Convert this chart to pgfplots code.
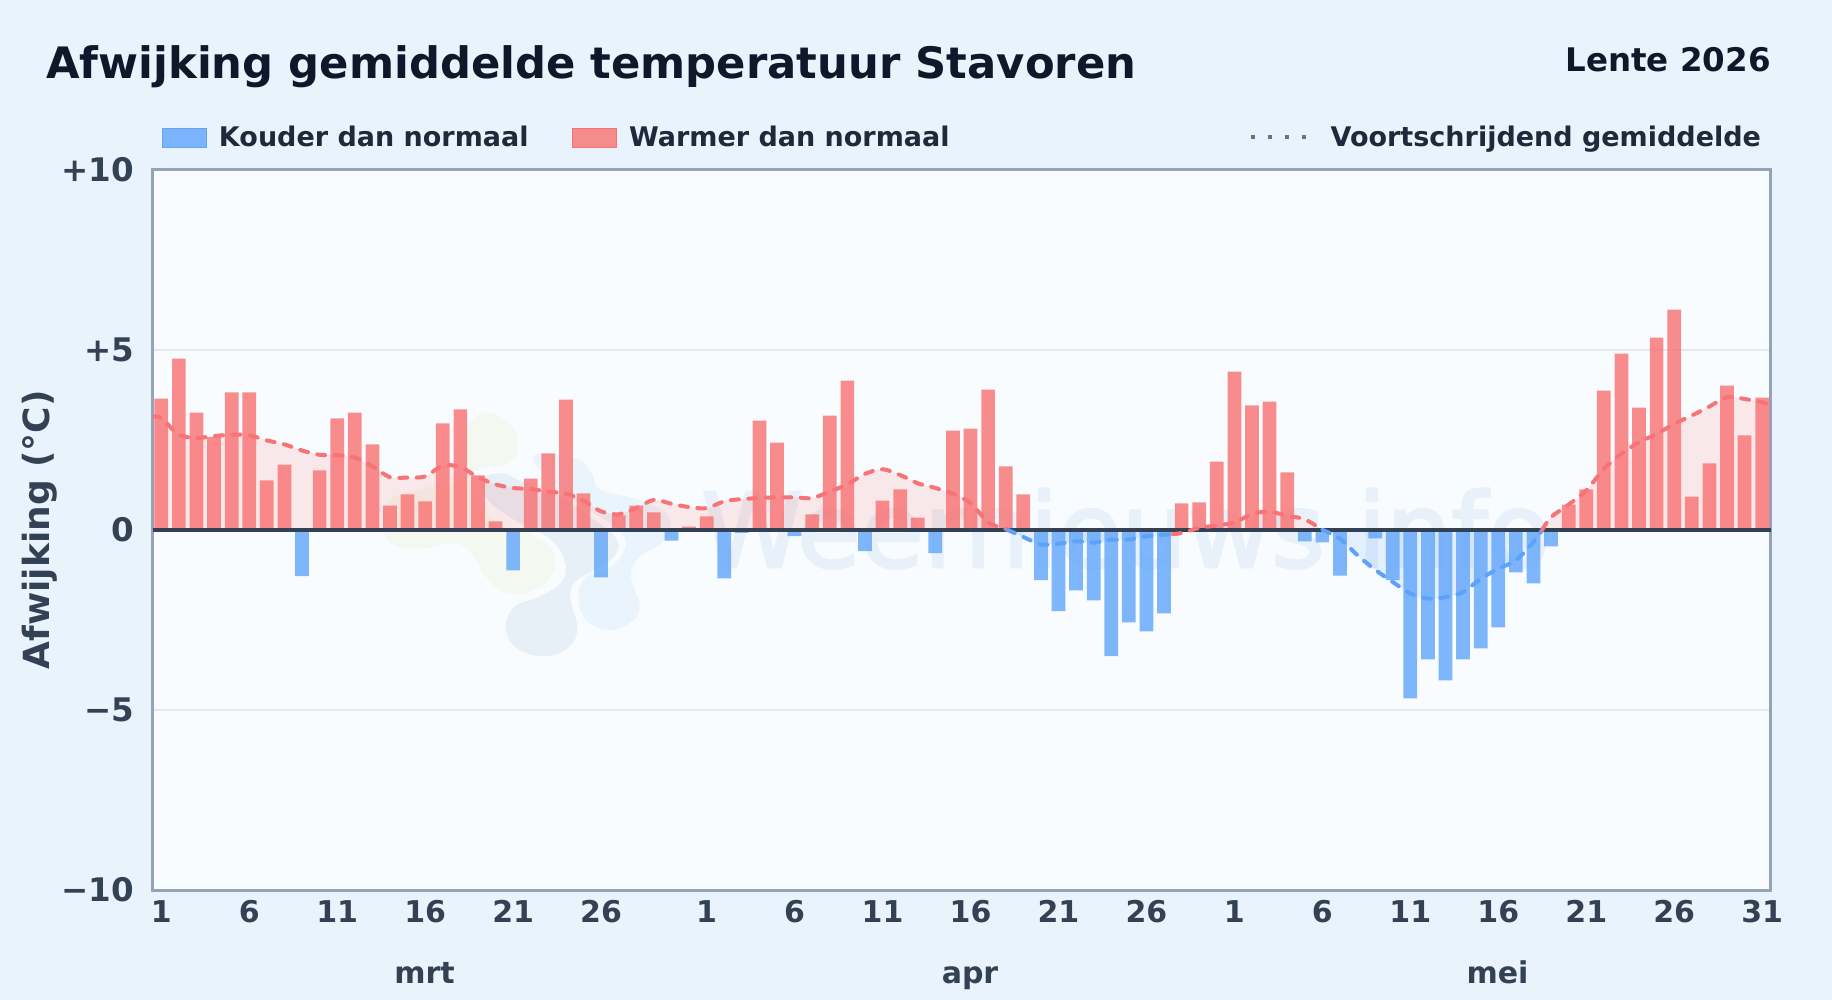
\documentclass[border=0pt]{standalone}
\usepackage{fontspec}
\setmainfont{DejaVu Sans}
\newfontfamily\wmfont[FakeBold=2.5]{DejaVu Sans}
\usepackage{pgfplots}
\pgfplotsset{compat=1.18}

\definecolor{pagebg}{RGB}{232,243,252}
\definecolor{plotbg}{RGB}{248,252,255}
\definecolor{warm}{RGB}{248,113,113}
\definecolor{cold}{RGB}{96,165,250}
\definecolor{warmline}{RGB}{247,115,118}
\definecolor{coldline}{RGB}{92,162,250}
\definecolor{ink}{RGB}{15,23,42}
\definecolor{legendink}{RGB}{30,41,59}
\definecolor{tickink}{RGB}{51,65,85}
\definecolor{frame}{RGB}{148,163,184}
\definecolor{gridc}{RGB}{226,232,240}
\definecolor{dots}{RGB}{100,116,139}
\definecolor{wmark}{RGB}{232,240,249}
\definecolor{blobgreen}{RGB}{243,249,241}
\definecolor{blobgray}{RGB}{231,239,247}
\definecolor{blobblue}{RGB}{234,244,253}

\newcommand{\fs}[1]{\fontsize{#1}{#1}\selectfont\bfseries}

\begin{document}
\begin{tikzpicture}
  \path[use as bounding box] (0,0) rectangle (1832pt,-1000pt);
  \fill[pagebg] (0,0) rectangle (1832pt,-1000pt);
  \fill[plotbg] (152.5pt,-169.5pt) rectangle (1771pt,-890pt);

  % logo blobs, faint, coordinates as on the zoomed crop
  \begin{scope}[shift={(140pt,-340pt)},x=0.357pt,y=-0.3333pt]
    \fill[blobgreen] plot[smooth cycle,tension=0.7] coordinates {
      (950,222) (1030,245) (1058,310) (1035,365) (960,385) (890,420) (780,450) (700,480)
      (680,550) (710,615) (790,625) (880,610) (930,640) (965,705) (1020,755) (1090,755)
      (1150,710) (1160,640) (1110,590) (1010,555) (960,500) (930,440) (900,320)};
    \fill[blobblue] plot[smooth cycle,tension=0.7] coordinates {
      (1100,350) (1220,355) (1265,400) (1290,450) (1400,480) (1480,530) (1470,600) (1400,650)
      (1375,710) (1400,800) (1370,850) (1310,870) (1250,840) (1228,770) (1250,710) (1320,680)
      (1360,620) (1340,570) (1260,510) (1180,450)};
    \fill[blobgray] plot[smooth cycle,tension=0.7] coordinates {
      (1025,860) (1050,800) (1120,770) (1185,720) (1185,650) (1140,590) (1050,540) (975,480)
      (960,420) (1010,400) (1060,420) (1110,445) (1180,470) (1260,530) (1330,590) (1335,640)
      (1290,680) (1225,720) (1205,770) (1225,870) (1190,930) (1120,948) (1050,920)};
  \end{scope}
  \node[anchor=base west,inner sep=0pt,text=wmark,font=\wmfont\fontsize{103}{103}\selectfont] at (701pt,-567pt) {Weernieuws.info};

  \begin{axis}[
    at={(152.5pt,-890pt)}, anchor=south west,
    scale only axis, width=1618.5pt, height=720.5pt,
    xmin=-0.5, xmax=91.5, ymin=-10, ymax=10,
    axis line style={frame, line width=3pt},
    ytick={-10,-5,0,5,10},
    yticklabels={−10,−5,0,+5,+10},
    xtick={0,5,10,15,20,25,31,36,41,46,51,56,61,66,71,76,81,86,91},
    xticklabels={1,6,11,16,21,26,1,6,11,16,21,26,1,6,11,16,21,26,31},
    major tick length=0pt,
    ymajorgrids, grid style={gridc, line width=2pt},
    x tick label style={font=\fs{30}, text=tickink, yshift=-7pt},
    y tick label style={font=\fs{32.5}, text=tickink, xshift=-15pt},
    title={Afwijking gemiddelde temperatuur Stavoren},
    title style={font=\fs{43.3}, text=ink, at={(axis description cs:-0.0658,1.1186)}, anchor=base west, inner sep=0pt, yshift=0pt},
    ylabel={Afwijking (°C)},
    ylabel style={font=\fs{36}, text=tickink, at={(axis description cs:-0.0695,0.5)}, anchor=center},
    legend style={at={(axis description cs:0.0055,1.0448)}, anchor=west, draw=none, fill=none,
      legend columns=3, font=\fs{27}, text=legendink, inner sep=0pt},
    legend cell align=left,
    runmean/.style={smooth,tension=0.5,line width=4pt,line cap=round,dash pattern=on 8pt off 9.5pt,forget plot},
  ]
    \addlegendimage{legend image code/.code={\fill[cold,fill opacity=0.8] (0pt,-9.5pt) rectangle (44pt,9.5pt);}}
    \addlegendentry{\hspace{11pt}Kouder dan normaal\hspace{41pt}\null}
    \addlegendimage{legend image code/.code={\fill[warm,fill opacity=0.8] (0pt,-9.5pt) rectangle (44pt,9.5pt);}}
    \addlegendentry{\hspace{11pt}Warmer dan normaal\hspace{297pt}\null}
    \addlegendimage{legend image code/.code={\draw[dots,line width=4.5pt,dash pattern=on 4.5pt off 12.5pt] (0pt,0pt) -- (55.5pt,0pt);}}
    \addlegendentry{\hspace{20pt}Voortschrijdend gemiddelde}

    % shaded area under the running mean
    \addplot[draw=none,fill=warm,fill opacity=0.14,smooth,tension=0.5,forget plot] coordinates {
      (-0.5,3.14) (0,3.1) (1,2.64) (2,2.55) (3,2.6) (4,2.64) (5,2.62) (6,2.48) (7,2.37) (8,2.2) (9,2.08)
      (10,2.07) (11,2.0) (12,1.76) (13,1.46) (14,1.45) (15,1.48) (16,1.78) (17,1.74) (18,1.46) (19,1.26)
      (20,1.16) (21,1.13) (22,1.06) (23,1.0) (24,0.81) (25,0.51) (26,0.43) (27,0.6) (28,0.83) (29,0.72)
      (30,0.63) (31,0.6) (32,0.79) (33,0.85) (34,0.88) (35,0.9) (36,0.9) (37,0.88) (38,1.06) (39,1.26)
      (40,1.55) (41,1.68) (42,1.52) (43,1.29) (44,1.16) (45,1.0) (46,0.74) (47,0.21) (48,0.02) (48.1,0)} \closedcycle;
    \addplot[draw=none,fill=cold,fill opacity=0.14,smooth,tension=0.5,forget plot] coordinates {
      (48.1,0) (49,-0.2) (50,-0.41) (51,-0.39) (52,-0.32) (53,-0.36) (54,-0.28) (55,-0.27) (56,-0.18) (57,-0.14) (57.5,-0.12)} \closedcycle;
    \addplot[draw=none,fill=warm,fill opacity=0.14,smooth,tension=0.5,forget plot] coordinates {
      (58.6,0) (59,0.05) (60,0.12) (61,0.2) (62,0.44) (63,0.5) (64,0.39) (65,0.29) (66,0)} \closedcycle;
    \addplot[draw=none,fill=cold,fill opacity=0.14,smooth,tension=0.5,forget plot] coordinates {
      (66,0) (67,-0.25) (68,-0.71) (69,-1.11) (70,-1.45) (71,-1.77) (72,-1.91) (73,-1.87) (74,-1.73)
      (75,-1.36) (76,-1.08) (77,-0.85) (78,-0.34) (78.5,0)} \closedcycle;
    \addplot[draw=none,fill=warm,fill opacity=0.14,smooth,tension=0.5,forget plot] coordinates {
      (78.5,0) (79,0.35) (80,0.70) (81,1.09) (82,1.69) (83,2.11) (84,2.43) (85,2.66) (86,2.94) (87,3.17)
      (88,3.42) (89,3.68) (90,3.63) (91,3.54) (91.5,3.47)} \closedcycle;

    % bars
    \addplot[ybar,bar width=0.78,bar shift=0pt,draw=none,fill=warm,fill opacity=0.8,forget plot] coordinates {
      (0,3.64) (1,4.75) (2,3.25) (3,2.57) (4,3.81) (5,3.81) (6,1.37) (7,1.81) (9,1.65) (10,3.09)
      (11,3.25) (12,2.37) (13,0.67) (14,0.98) (15,0.79) (16,2.95) (17,3.34) (18,1.51) (19,0.23)
      (21,1.42) (22,2.12) (23,3.61) (24,1.01) (26,0.40) (27,0.67) (28,0.48) (30,0.09) (31,0.37)
      (34,3.03) (35,2.42) (37,0.43) (38,3.17) (39,4.14) (41,0.81) (42,1.12) (43,0.34) (45,2.75)
      (46,2.81) (47,3.89) (48,1.76) (49,0.98) (58,0.73) (59,0.76) (60,1.89) (61,4.39) (62,3.45)
      (63,3.56) (64,1.59) (80,0.70) (81,1.12) (82,3.86) (83,4.89) (84,3.39) (85,5.33) (86,6.11)
      (87,0.92) (88,1.84) (89,4.00) (90,2.62) (91,3.67)};
    \addplot[ybar,bar width=0.78,bar shift=0pt,draw=none,fill=cold,fill opacity=0.8,forget plot] coordinates {
      (8,-1.29) (20,-1.13) (25,-1.32) (29,-0.30) (32,-1.35) (33,-0.09) (36,-0.18) (40,-0.59) (44,-0.65)
      (50,-1.40) (51,-2.26) (52,-1.68) (53,-1.96) (54,-3.51) (55,-2.57) (56,-2.82) (57,-2.32)
      (65,-0.32) (66,-0.35) (67,-1.27) (69,-0.24) (70,-1.40) (71,-4.68) (72,-3.60) (73,-4.18)
      (74,-3.60) (75,-3.29) (76,-2.71) (77,-1.18) (78,-1.49) (79,-0.46)};

    % zero line
    \addplot[tickink,line width=4pt,forget plot] coordinates {(-0.5,0) (91.5,0)};

    % running mean, red above and blue below zero
    \addplot[warmline,runmean] coordinates {
      (-0.5,3.14) (0,3.1) (1,2.64) (2,2.55) (3,2.6) (4,2.64) (5,2.62) (6,2.48) (7,2.37) (8,2.2) (9,2.08)
      (10,2.07) (11,2.0) (12,1.76) (13,1.46) (14,1.45) (15,1.48) (16,1.78) (17,1.74) (18,1.46) (19,1.26)
      (20,1.16) (21,1.13) (22,1.06) (23,1.0) (24,0.81) (25,0.51) (26,0.43) (27,0.6) (28,0.83) (29,0.72)
      (30,0.63) (31,0.6) (32,0.79) (33,0.85) (34,0.88) (35,0.9) (36,0.9) (37,0.88) (38,1.06) (39,1.26)
      (40,1.55) (41,1.68) (42,1.52) (43,1.29) (44,1.16) (45,1.0) (46,0.74) (47,0.21) (48,0.02) (48.1,0)};
    \addplot[coldline,runmean] coordinates {
      (48.1,0) (49,-0.2) (50,-0.41) (51,-0.39) (52,-0.32) (53,-0.36) (54,-0.28) (55,-0.27) (56,-0.18) (57,-0.14) (57.5,-0.12)};
    \addplot[warmline,runmean] coordinates {
      (57.5,-0.12) (58,-0.09) (59,0.05) (60,0.12) (61,0.2) (62,0.44) (63,0.5) (64,0.39) (65,0.29) (66,0)};
    \addplot[coldline,runmean] coordinates {
      (66,0) (67,-0.25) (68,-0.71) (69,-1.11) (70,-1.45) (71,-1.77) (72,-1.91) (73,-1.87) (74,-1.73)
      (75,-1.36) (76,-1.08) (77,-0.85) (78,-0.34) (78.5,0)};
    \addplot[warmline,runmean] coordinates {
      (78.5,0) (79,0.35) (80,0.70) (81,1.09) (82,1.69) (83,2.11) (84,2.43) (85,2.66) (86,2.94) (87,3.17)
      (88,3.42) (89,3.68) (90,3.63) (91,3.54) (91.5,3.47)};
  \end{axis}

  \node[anchor=base east,inner sep=0pt,font=\fs{32.5},text=ink] at (1771pt,-72pt) {Lente 2026};
  \node[anchor=base,font=\fs{30},text=tickink] at (424.6pt,-983.5pt) {mrt};
  \node[anchor=base,font=\fs{30},text=tickink] at (970pt,-983.5pt) {apr};
  \node[anchor=base,font=\fs{30},text=tickink] at (1497.5pt,-983.5pt) {mei};
\end{tikzpicture}
\end{document}
